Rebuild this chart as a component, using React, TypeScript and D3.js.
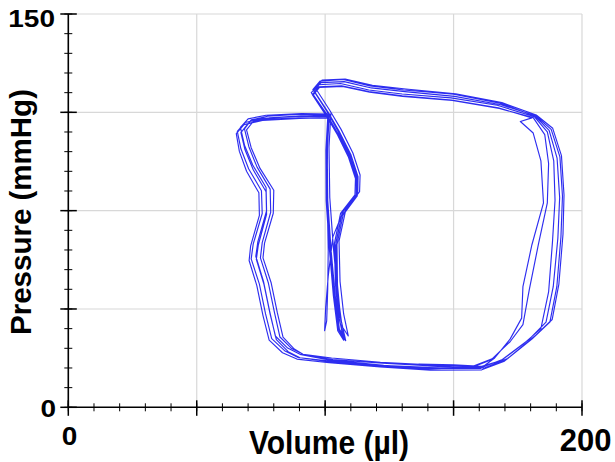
import React from "react";
import * as d3 from "d3";

type Pt = [number, number];

const xTickLabels = ["0", "200"];
const yTickLabels = ["0", "150"];
const xMajor = [0, 50, 100, 150, 200];
const yMajor = [0, 37.5, 75, 112.5, 150];
const xMinor = d3.range(0, 200.01, 10);
const yMinor = d3.range(0, 150.01, 7.5);

// [volume (µl), pressure (mmHg)], one array per beat
const cycle1: Pt[] = [[136.4,16.5],[150,16.2],[161,15.6],[168.5,17.8],[177,24],[184,30],[187,44],[188.5,63],[189.5,79],[189,94],[186.5,105],[181.5,110.8],[167,115.2],[149,118],[130,119.5],[117,121],[106,123.5],[97.5,123],[94.6,120],[100,112],[104.5,104.5],[109,95.6],[111.8,87.2],[111.6,81],[106,74],[103.6,62.4],[104,47],[105.2,34.5],[107.6,25.8],[105.2,29.6],[103.3,43],[101.8,60.2],[100.6,79.3],[100.5,98.6],[101.3,110.9],[90,111],[76,110.2],[68.8,108.6],[65.8,105.2],[67.2,98.6],[70.2,91],[75.2,82.6],[75.5,73.9],[72,62.3],[71.2,56.6],[74.4,47],[76.8,35.6],[79.2,26.2],[84.2,21.6],[89.5,19],[101.5,17.4],[121,15.8],[140,14.6]];
const cycle2: Pt[] = [[161.5,15.4],[169,18.2],[179.5,26],[186,32.5],[188.8,46],[190.6,64.5],[191.3,80],[190.3,95],[187.2,105.6],[181.8,111],[168,116],[150,119.4],[130.5,121],[117.5,122.6],[107,125],[98,124.4],[95.2,121.2],[100.6,113],[105,105.4],[109.6,96.2],[112.4,87.8],[112.3,81.3],[106.6,74.2],[104.2,62.8],[104.5,47.4],[105.8,34.8],[107.8,26.4],[105.4,30],[103.6,43.4],[102,60.6],[100.8,79.6],[100.7,98.8],[101.4,111.4],[90.2,111.8],[77.6,111],[71.2,109.6],[68.6,106.2],[70.3,99.4],[73.5,91.6],[78.6,83.2],[78.8,74.4],[75.5,62.8],[74.8,57],[77.9,47.4],[80.3,36],[82.4,26.8],[87,22.4],[91.4,20.2],[102.5,18.8],[121.5,17.2],[140.8,16.2]];
const cycle3: Pt[] = [[158,15.8],[165,18.5],[172,25],[177,31.5],[179.5,45],[183,62],[186.5,78],[187,93],[185.5,104],[181,110.5],[167.8,114],[149.5,117],[130.2,118.6],[117.3,120.2],[106.8,122.4],[97.8,122],[95.4,119.2],[100.8,111.5],[105.2,104],[109.8,95],[112.6,86.8],[112.5,80.6],[107,73.4],[104.6,62],[104.8,46.6],[106,34.2],[108,25.4],[105.6,29.4],[103.9,42.8],[102.3,60],[101,79],[100.8,98.2],[101.5,110.5],[90,110.2],[75.6,109.4],[68.4,107.8],[65.4,104.4],[66.6,97.6],[69.4,90],[74.2,81.8],[74.4,73.2],[71,61.6],[70.4,56],[73.4,46.4],[75.8,35],[78.2,25.6],[83.4,20.8],[89,18.4],[101.6,17],[121.4,15.4],[141,14.2]];
const cycle4: Pt[] = [[161,14.3],[169.8,17.6],[180.5,26],[187.5,32.5],[190.2,46],[191.8,65],[192.4,80.5],[191.4,95.5],[188,106],[182,111.2],[168.4,115.4],[150.4,118.6],[131,120.4],[118,121.8],[107.4,124.2],[98.4,123.8],[95.6,120.8],[101,112.8],[105.4,105.4],[110,96.4],[112.8,88],[112.7,81.7],[107,74.6],[103,65],[101.2,50],[100.2,38],[99.8,29.2],[100.6,33],[101,45],[101.2,60],[100.8,80],[100.9,99],[101.6,111.3],[90.6,111.2],[78.4,110.4],[72,109],[69.4,105.8],[71.2,99],[74.6,91.2],[80,82.8],[79.8,74],[76.4,62.6],[75.8,57],[79,47.4],[81.4,36],[83.6,26.8],[88,22.2],[92,19.9],[103,18.2],[122.4,16.8],[141.4,15.8]];
const cycle5: Pt[] = [[162,15],[171,18.6],[182,27.5],[188.4,33.5],[191,47],[192.6,66],[193,81],[192,96],[188.6,106.4],[182.2,111.5],[168.8,116.2],[150.8,119.6],[131.4,121.4],[118.4,122.8],[107.8,125.2],[98.8,124.8],[96.2,121.8],[101.6,113.6],[106.2,106],[110.8,97],[113.6,88.6],[113.4,82.2],[108,75.2],[105.4,63.4],[105.8,48],[107.2,35.6],[109,27.2],[106.6,30.8],[104.8,44],[103.2,61],[101.8,80],[101.5,99.2],[102.2,111.8],[90.8,112],[77,111.4],[70,110],[67,106.8],[68.6,100],[71.8,92.4],[77,83.8],[77.2,75],[73.8,63.2],[73,57.6],[76,48],[78.4,36.6],[80.6,27.2],[85.4,22.6],[90.2,20.2],[102,18],[122.8,16],[141.8,14.8]];
const cycle6: Pt[] = [[160.5,14.8],[166,18.8],[172,26],[176.5,34],[177,46],[180.5,62],[185,78],[184,94],[181,104.6],[176,109],[180.5,110.4],[167.4,114.2],[149.2,117.2],[130,118.8],[117,120.4],[106.4,122.6],[97.4,122.2],[95,119.2],[100.4,111.2],[104.9,103.8],[109.5,94.8],[112.2,86.5],[112.1,80.2],[106.4,73],[104,61.6],[104.3,46.3],[105.5,34],[107.2,25.6],[104.9,29.2],[103.2,42.6],[101.7,59.8],[100.4,78.8],[100.3,98],[101,110.3],[89.6,110.4],[76.8,109.8],[70,108.2],[67.2,104.8],[68.8,98.2],[72,90.6],[77,82.2],[77.2,73.6],[74,62],[73.2,56.4],[76.2,46.8],[78.6,35.4],[81,25.8],[85.6,21.2],[90.2,18.9],[101.8,17.6],[121.2,16],[140,15.2],[158,15.6],[165,18.2]];

const cycles = [cycle1, cycle2, cycle3, cycle4, cycle5, cycle6];

const W = 615, H = 462;
const x = d3.scaleLinear().domain([0, 200]).range([68.3, 582]);
const y = d3.scaleLinear().domain([0, 150]).range([407.3, 14]);

function sy(k: number, cx: number, cy: number) {
  return `translate(${cx},${cy}) scale(1,${k}) translate(${-cx},${-cy})`;
}

export default function App() {
  const all: Pt[] = ([] as Pt[]).concat(...cycles);
  const line = d3.line<Pt>().x(d => x(d[0])).y(d => y(d[1]));
  const font = "'Liberation Sans', Arial, sans-serif";
  return (
    <svg width={W} height={H} style={{ position: "absolute", left: 0, top: 0, background: "#fff" }}>
      <g>
        {xMajor.slice(1).map(v => (
          <line key={"gx" + v} x1={x(v)} x2={x(v)} y1={y(150)} y2={y(0)} stroke="#d8d8d8" strokeWidth={1.2} />
        ))}
        {yMajor.slice(1).map(v => (
          <line key={"gy" + v} x1={x(0)} x2={x(200)} y1={y(v)} y2={y(v)} stroke="#d8d8d8" strokeWidth={1.2} />
        ))}
      </g>
      <path d={line(all) || ""} fill="none" stroke="#1616ee" strokeWidth={1.15} strokeOpacity={0.9} strokeLinejoin="round" />
      <g stroke="#000">
        <line x1={x(0)} x2={x(200)} y1={y(0)} y2={y(0)} strokeWidth={1.6} />
        <line x1={x(0)} x2={x(0)} y1={y(0)} y2={y(150)} strokeWidth={1.6} />
        {xMinor.map(v => (
          <line key={"xm" + v} x1={x(v)} x2={x(v)} y1={y(0) - 4} y2={y(0) + 4} strokeWidth={1} />
        ))}
        {xMajor.map(v => (
          <line key={"xM" + v} x1={x(v)} x2={x(v)} y1={y(0) - 7} y2={y(0) + 8.5} strokeWidth={1.5} />
        ))}
        {yMinor.map(v => (
          <line key={"ym" + v} x1={x(0) - 4} x2={x(0) + 4} y1={y(v)} y2={y(v)} strokeWidth={1} />
        ))}
        {yMajor.map(v => (
          <line key={"yM" + v} x1={x(0) - 8} x2={x(0) + 8.5} y1={y(v)} y2={y(v)} strokeWidth={1.5} />
        ))}
      </g>
      <g fontFamily={font} fontWeight="bold" fill="#000">
        <text x={55} y={27.3} textAnchor="end" fontSize={28} transform={sy(0.87, 55, 27.3)}>{yTickLabels[1]}</text>
        <text x={56} y={417.3} textAnchor="end" fontSize={28} transform={sy(0.83, 56, 417.3)}>{yTickLabels[0]}</text>
        <text x={69.5} y={445} textAnchor="middle" fontSize={28} transform={sy(0.9, 69.5, 445)}>{xTickLabels[0]}</text>
        <text x={585.7} y={451} textAnchor="middle" fontSize={31}>{xTickLabels[1]}</text>
        <text x={329} y={454} textAnchor="middle" fontSize={30} transform={sy(1.08, 329, 454)}>Volume (µl)</text>
        <text transform="translate(31,212) rotate(-90)" textAnchor="middle" fontSize={29.5}>Pressure (mmHg)</text>
      </g>
    </svg>
  );
}
